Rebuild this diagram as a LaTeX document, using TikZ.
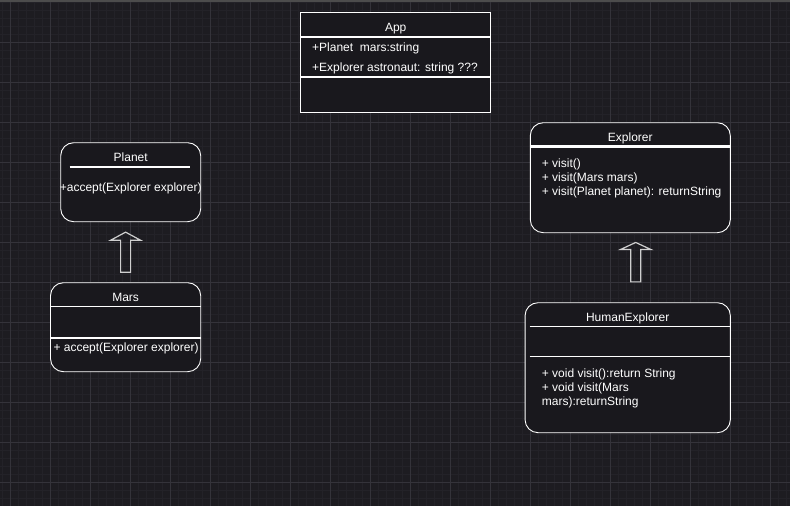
\documentclass[tikz,border=0pt]{standalone}
\usepackage{fontspec}
\setmainfont{Liberation Sans}
\usetikzlibrary{positioning,calc}
\definecolor{canvas}{HTML}{1D1C21}
\definecolor{gridminor}{HTML}{232228}
\definecolor{gridmajor}{HTML}{34333A}
\definecolor{boxfill}{HTML}{19181D}
\definecolor{arrowgray}{HTML}{CFCFCF}
\tikzset{classbox/.style={draw=white, fill=boxfill, line width=0.9pt, rounded corners=13pt},
  title/.style={text=white, font=\fontsize{12}{14}\selectfont, inner sep=0pt, text height=8.6pt, text depth=0pt},
  members/.style={text=white, font=\fontsize{12}{14}\selectfont, inner sep=0pt, align=left},
  sepline/.style={draw=white, line width=1.6pt},
  inherits/.style={draw=arrowgray, line width=1.2pt, line join=miter},}

\begin{document}
\begin{tikzpicture}[x=1pt,y=-1pt]
\useasboundingbox (0,0) rectangle (790,506);
% background grid
\fill[canvas] (0,0) rectangle (790,506);
\foreach \x in {2,10,...,786} \draw[gridminor, line width=0.8pt] (\x,0) -- (\x,506);
\foreach \y in {2,10,...,506} \draw[gridminor, line width=0.8pt] (0,\y) -- (790,\y);
\foreach \x in {10,50,...,770} \draw[gridmajor, line width=1pt] (\x,0) -- (\x,506);
\foreach \y in {42,82,...,482} \draw[gridmajor, line width=1pt] (0,\y) -- (790,\y);
\fill[gray!60!black] (0,0) rectangle (790,2);

% App
\node[classbox, rounded corners=0pt, minimum width=190, minimum height=99.3] (app) at (395.7,62.3) {};
\node[title] (apptitle) at (app.north |- 0,26.7) {App};
\draw[sepline] (app.west |- 0,36.7) -- (app.east |- 0,36.7);
\node[members, anchor=west] (appattr) at (312,58.2) {+Planet\ \ mars:string\\[6pt]+Explorer astronaut: string ???};
\draw[sepline] (app.west |- 0,76.7) -- (app.east |- 0,76.7);

% Planet
\node[classbox, minimum width=140, minimum height=79] (planet) at (130.7,182.2) {};
\node[title] (planettitle) at (planet.north |- 0,156.7) {Planet};
\draw[sepline] ($(planet.west |- 0,166.7)+(9.3,0)$) -- ($(planet.east |- 0,166.7)+(-10.7,0)$);
\node[members] (planetops) at (planet.center |- 0,188.5) {+accept(Explorer explorer)};

% Mars
\node[classbox, minimum width=150.2, minimum height=89] (mars) at (125.6,327.2) {};
\node[title] (marstitle) at (mars.north |- 0,296.7) {Mars};
\draw[sepline, line width=1.3pt] (mars.west |- 0,306.5) -- (mars.east |- 0,306.5);
\draw[sepline, line width=1.3pt] (mars.west |- 0,338) -- (mars.east |- 0,338);
\node[members, anchor=west] (marsops) at (53.3,348.5) {+ accept(Explorer explorer)};

% Explorer
\node[classbox, minimum width=200, minimum height=110] (explorer) at (630.3,177.7) {};
\node[title] (explorertitle) at (explorer.north |- 0,136.7) {Explorer};
\draw[sepline, line width=2.8pt] (explorer.west |- 0,146.5) -- (explorer.east |- 0,146.5);
\node[members, anchor=west] (explorerops) at (541.7,178.5) {+ visit()\\+ visit(Mars mars)\\+ visit(Planet planet): returnString};

% HumanExplorer
\node[classbox, minimum width=205.3, minimum height=130] (human) at (627.7,367.7) {};
\node[title] (humantitle) at (human.north |- 0,316.7) {HumanExplorer};
\draw[sepline, line width=1.3pt] ($(human.west |- 0,326.7)+(5,0)$) -- (human.east |- 0,326.7);
\draw[sepline, line width=1.3pt] ($(human.west |- 0,356.7)+(5,0)$) -- (human.east |- 0,356.7);
\node[members, anchor=west] (humanops) at (541.7,388.7) {+ void visit():return String\\+ void visit(Mars\\mars):returnString};

% inheritance arrows
\draw[inherits] ($(mars.north)+(-5,-10)$) -- ++(0,-32) -- ++(-10,0) -- ($(planet.south -| mars.north)+(0,10)$) -- ($(mars.north)+(15,-42)$) -- ++(-10,0) -- ++(0,32) -- cycle;
\draw[inherits] ($(human.north)+(3,-20.4)$) -- ++(0,-32.3) -- ++(-10.3,0) -- ($(explorer.south -| human.north)+(8,9.3)$) -- ($(human.north)+(23.3,-52.7)$) -- ++(-10.3,0) -- ++(0,32.3) -- cycle;
\end{tikzpicture}
\end{document}
